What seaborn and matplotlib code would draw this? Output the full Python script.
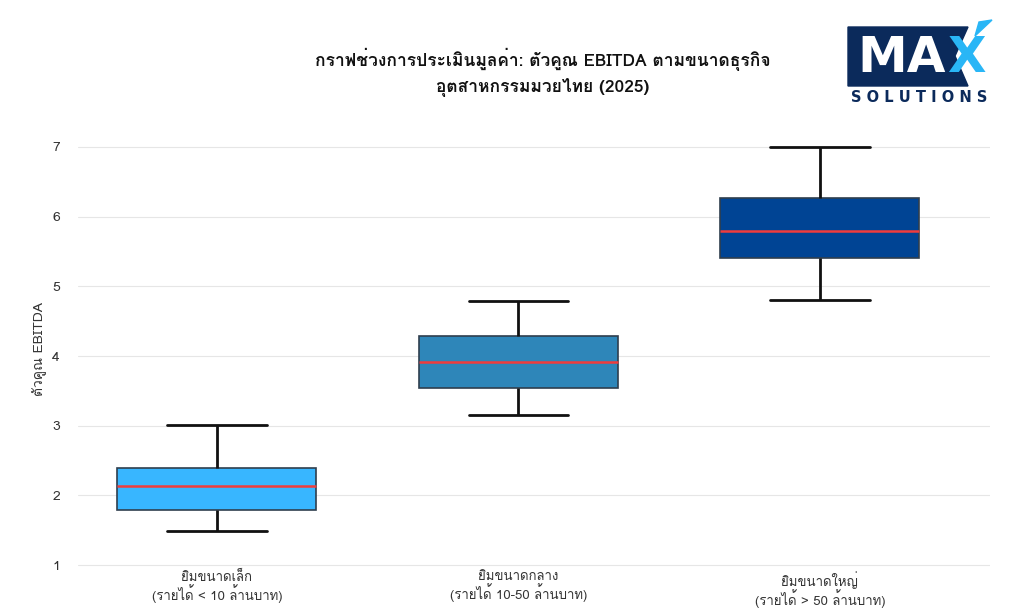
import matplotlib
matplotlib.use("Agg")
import matplotlib.pyplot as plt
from matplotlib import font_manager
from matplotlib.ft2font import FT2Font
from matplotlib.patches import Polygon
import seaborn as sns
import pandas as pd

# ข้อมูล: min, Q1, median, Q3, max ของแต่ละกลุ่ม
groups = ["ยิมขนาดเล็ก\n(รายได้ < 10 ล้านบาท)",
          "ยิมขนาดกลาง\n(รายได้ 10-50 ล้านบาท)",
          "ยิมขนาดใหญ่\n(รายได้ > 50 ล้านบาท)"]
small_vals = [1.49, 1.79, 2.13, 2.39, 3.01]
medium_vals = [3.15, 3.54, 3.91, 4.28, 4.79]
large_vals = [4.80, 5.41, 5.79, 6.27, 7.00]
box_colors = ["#38B6FF", "#2E86B9", "#004494"]

title = "กราฟช่วงการประเมินมูลค่า: ตัวคูณ EBITDA ตามขนาดธุรกิจ\nอุตสาหกรรมมวยไทย (2025)"
ylabel = "ตัวคูณ EBITDA"


# หา font ที่มีอักษรไทย
def find_thai_font():
    for f in font_manager.fontManager.ttflist:
        try:
            if 0x0E01 in FT2Font(f.fname).get_charmap():
                return f.name
        except Exception:
            pass
    return None


sns.set_style("whitegrid")
thai = find_thai_font()
fams = ["DejaVu Sans"]
if thai:
    fams = [thai, "DejaVu Sans"]
plt.rcParams["font.family"] = fams

df = pd.DataFrame({
    "group": [groups[0]] * 5 + [groups[1]] * 5 + [groups[2]] * 5,
    "value": small_vals + medium_vals + large_vals,
})

fig = plt.figure(figsize=(10.24, 6.08), dpi=100)
ax = fig.add_axes([78 / 1024, 1 - 568 / 608, 912 / 1024, 438 / 608])

sns.boxplot(data=df, x="group", y="value", hue="group", palette=box_colors,
            saturation=1, whis=(0, 100), width=0.66, legend=False, ax=ax,
            linecolor="#2F3E4E", linewidth=1.2,
            medianprops=dict(color="#F03C3C", linewidth=1.8),
            whiskerprops=dict(color="#111111", linewidth=2),
            capprops=dict(color="#111111", linewidth=2))

ax.set_xlim(-0.461, 2.564)
ax.set_ylim(0.957, 7.244)
ax.set_yticks([1, 2, 3, 4, 5, 6, 7])
for s in ax.spines.values():
    s.set_visible(False)
ax.grid(axis="y", color="#E6E6E6", linewidth=0.8)
ax.grid(axis="x", visible=False)
ax.tick_params(axis="y", length=5, color="#E0E0E0", labelsize=10, labelcolor="#333333", pad=8)
ax.tick_params(axis="x", length=0, labelsize=9.5, labelcolor="#333333", pad=2)
for lbl in ax.get_xticklabels():
    lbl.set_linespacing(1.0)
ax.set_xlabel("")
ax.set_ylabel(ylabel, fontsize=10, color="#333333", labelpad=4)

fig.text(0.53, 1 - 72 / 608, title, ha="center", va="center",
         fontsize=12.5, fontweight="bold", color="#111111", linespacing=1.5)

# โลโก้ MAX SOLUTIONS
navy = "#0B2A5B"
lblue = "#29B6F6"
logo_box = Polygon([(848 / 1024, 1 - 27 / 608), (968 / 1024, 1 - 27 / 608),
                    (955 / 1024, 1 - 56 / 608), (968 / 1024, 1 - 86 / 608),
                    (848 / 1024, 1 - 86 / 608)],
                   closed=True, transform=fig.transFigure, color=navy)
fig.patches.append(logo_box)
fig.text(902 / 1024, 1 - 58 / 608, "MA", ha="center", va="center",
         fontsize=36, fontweight="heavy", color="white", family="DejaVu Sans")
fig.text(966 / 1024, 1 - 58 / 608, "X", ha="center", va="center",
         fontsize=36, fontweight="heavy", color=lblue, family="DejaVu Sans")
fig.patches.append(plt.Polygon([(975 / 1024, 1 - 36 / 608), (992 / 1024, 1 - 20 / 608),
                                (979 / 1024, 1 - 22 / 608)],
                               closed=True, transform=fig.transFigure, color=lblue))
fig.text(919 / 1024, 1 - 97 / 608, "S O L U T I O N S", ha="center", va="center",
         fontsize=10.5, fontweight="bold", color=navy, family="DejaVu Sans")

fig.savefig("out.png", dpi=100, facecolor="white")
